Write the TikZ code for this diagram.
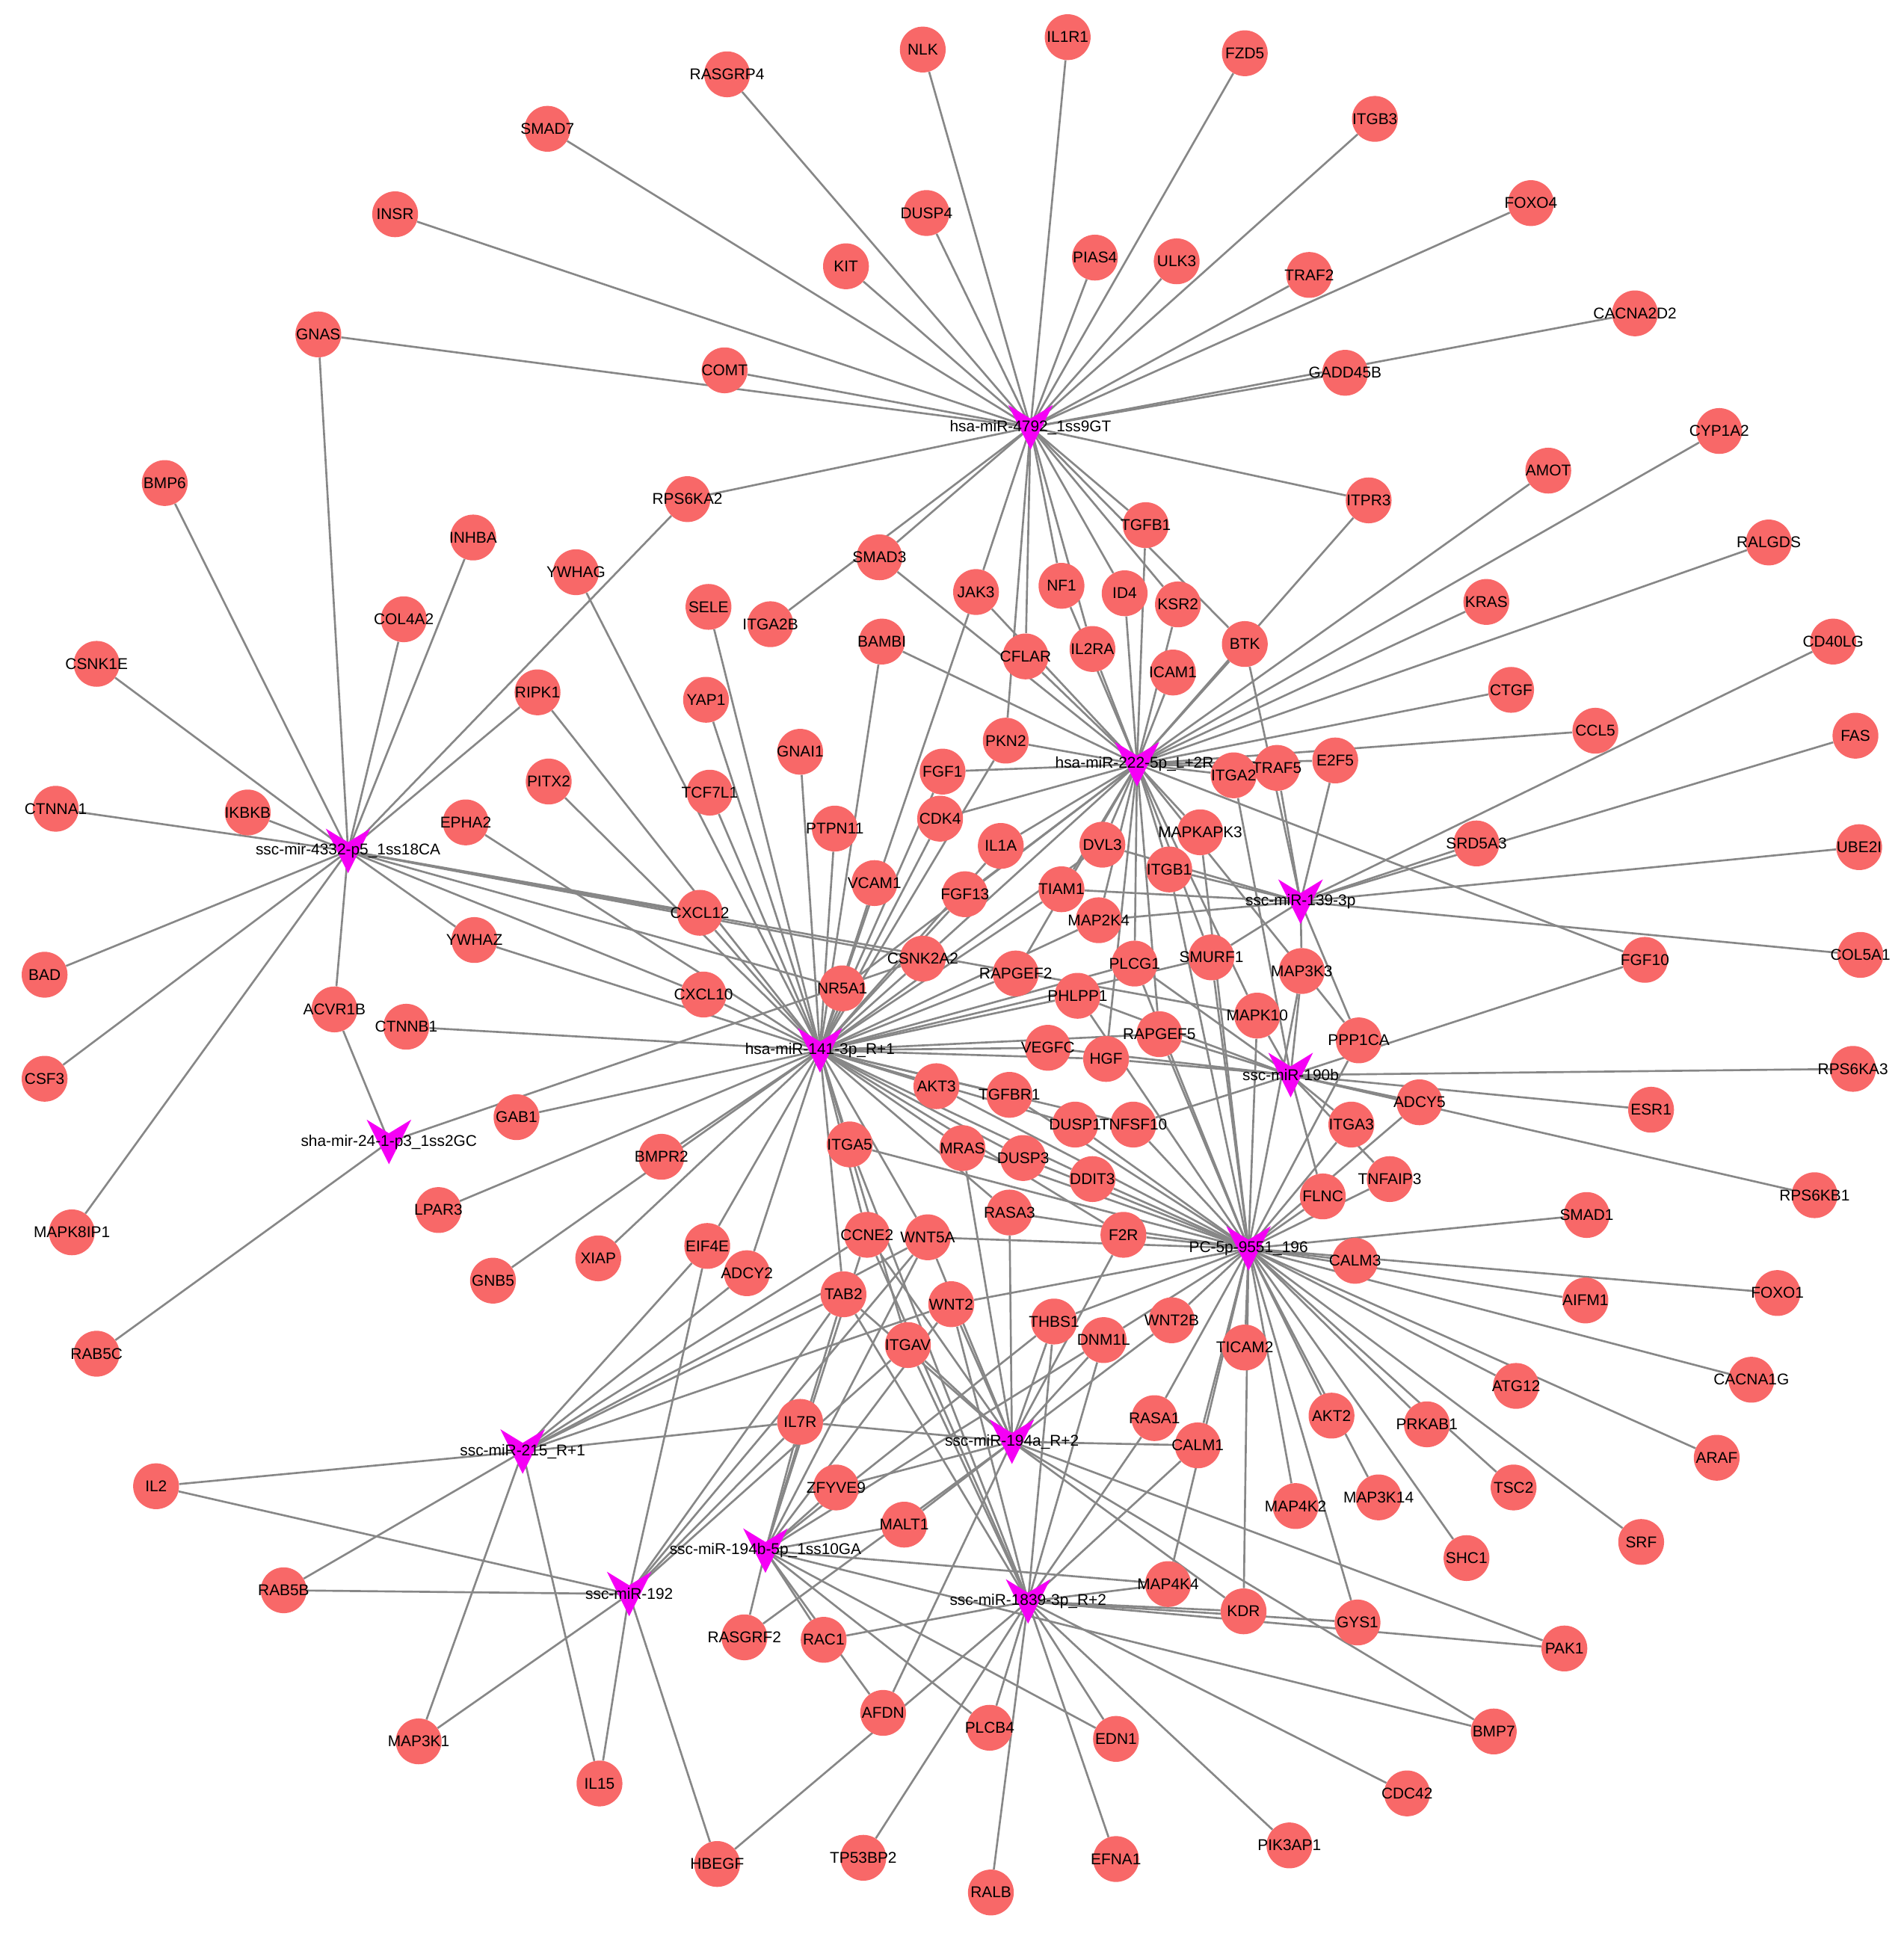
\documentclass[tikz,border=0pt]{standalone}
\usepackage{fontspec}
\setmainfont{Liberation Sans}
\usepackage{tikz}
\usetikzlibrary{backgrounds}
\definecolor{GeneRed}{RGB}{248,104,104}
\definecolor{MirMagenta}{RGB}{245,0,245}
\definecolor{LinkGray}{RGB}{135,135,135}

\begin{document}
\begin{tikzpicture}[
  x=1pt, y=-1pt,
  gene/.style={
    circle,
    fill=GeneRed,
    minimum size=37,
    inner sep=0pt,
    font=\fontsize{12.6}{14}\selectfont,
    execute at begin node={\hbox to 0pt\bgroup\hss},
    execute at end node={\hss\egroup}
  },
  mirna/.style={
    rectangle,
    draw=none,
    inner sep=0pt,
    minimum width=38,
    minimum height=40,
    font=\fontsize{12.6}{14}\selectfont,
    path picture={
      \fill[MirMagenta] ([shift={(-18,-18)}]path picture bounding box.center)
        -- ([shift={(0,-7)}]path picture bounding box.center)
        -- ([shift={(18,-18)}]path picture bounding box.center)
        -- ([shift={(0,18)}]path picture bounding box.center) -- cycle;
    }
  },
  link/.style={draw=LinkGray, line width=1.6}
]
\useasboundingbox (0,0) rectangle (1537,1568);

\node[mirna] (mir4792) at (832,345) {hsa-miR-4792\_1ss9GT};
\node[mirna] (mir222) at (918,617) {hsa-miR-222-5p\_L+2R-};
\node[mirna] (mir4332) at (281,687) {ssc-mir-4332-p5\_1ss18CA};
\node[mirna] (mir139) at (1050,728) {ssc-miR-139-3p};
\node[mirna] (mir141) at (662,848) {hsa-miR-141-3p\_R+1};
\node[mirna] (mir190b) at (1042,868) {ssc-miR-190b};
\node[mirna] (mir24) at (314,922) {sha-mir-24-1-p3\_1ss2GC};
\node[mirna] (pc9551) at (1008,1008) {PC-5p-9551\_196};
\node[mirna] (mir215) at (422,1172) {ssc-miR-215\_R+1};
\node[mirna] (mir194a) at (817,1164) {ssc-miR-194a\_R+2};
\node[mirna] (mir194b) at (618,1252) {ssc-miR-194b-5p\_1ss10GA};
\node[mirna] (mir192) at (508,1287) {ssc-miR-192};
\node[mirna] (mir1839) at (830,1293) {ssc-miR-1839-3p\_R+2};

\node[gene] (RASGRP4) at (587,60) {RASGRP4};
\node[gene] (NLK) at (745,40) {NLK};
\node[gene] (IL1R1) at (862,30) {IL1R1};
\node[gene] (FZD5) at (1005,43) {FZD5};
\node[gene] (SMAD7) at (442,104) {SMAD7};
\node[gene] (ITGB3) at (1110,96) {ITGB3};
\node[gene] (INSR) at (319,173) {INSR};
\node[gene] (DUSP4) at (748,172) {DUSP4};
\node[gene] (FOXO4) at (1236,164) {FOXO4};
\node[gene] (KIT) at (683,215) {KIT};
\node[gene] (PIAS4) at (884,208) {PIAS4};
\node[gene] (ULK3) at (950,211) {ULK3};
\node[gene] (TRAF2) at (1057,222) {TRAF2};
\node[gene] (GNAS) at (257,270) {GNAS};
\node[gene] (CACNA2D2) at (1320,253) {CACNA2D2};
\node[gene] (COMT) at (585,299) {COMT};
\node[gene] (GADD45B) at (1086,301) {GADD45B};
\node[gene] (BMP6) at (133,390) {BMP6};
\node[gene] (CYP1A2) at (1388,348) {CYP1A2};
\node[gene] (AMOT) at (1250,380) {AMOT};
\node[gene] (RPS6KA2) at (555,403) {RPS6KA2};
\node[gene] (ITPR3) at (1105,404) {ITPR3};
\node[gene] (INHBA) at (382,434) {INHBA};
\node[gene] (TGFB1) at (925,424) {TGFB1};
\node[gene] (RALGDS) at (1428,438) {RALGDS};
\node[gene] (SMAD3) at (710,450) {SMAD3};
\node[gene] (YWHAG) at (465,462) {YWHAG};
\node[gene] (NF1) at (857,473) {NF1};
\node[gene] (JAK3) at (788,478) {JAK3};
\node[gene] (ID4) at (908,479) {ID4};
\node[gene] (KSR2) at (951,488) {KSR2};
\node[gene] (KRAS) at (1200,486) {KRAS};
\node[gene] (SELE) at (572,490) {SELE};
\node[gene] (COL4A2) at (326,500) {COL4A2};
\node[gene] (ITGA2B) at (622,504) {ITGA2B};
\node[gene] (BAMBI) at (712,518) {BAMBI};
\node[gene] (CD40LG) at (1480,518) {CD40LG};
\node[gene] (BTK) at (1005,520) {BTK};
\node[gene] (IL2RA) at (882,524) {IL2RA};
\node[gene] (CFLAR) at (828,530) {CFLAR};
\node[gene] (CSNK1E) at (78,536) {CSNK1E};
\node[gene] (ICAM1) at (947,543) {ICAM1};
\node[gene] (CTGF) at (1220,557) {CTGF};
\node[gene] (RIPK1) at (434,559) {RIPK1};
\node[gene] (YAP1) at (570,565) {YAP1};
\node[gene] (CCL5) at (1288,590) {CCL5};
\node[gene] (FAS) at (1498,594) {FAS};
\node[gene] (PKN2) at (812,598) {PKN2};
\node[gene] (GNAI1) at (646,607) {GNAI1};
\node[gene] (E2F5) at (1078,614) {E2F5};
\node[gene] (TRAF5) at (1031,620) {TRAF5};
\node[gene] (FGF1) at (761,623) {FGF1};
\node[gene] (ITGA2) at (996,626) {ITGA2};
\node[gene] (PITX2) at (443,631) {PITX2};
\node[gene] (TCF7L1) at (573,640) {TCF7L1};
\node[gene] (CTNNA1) at (45,653) {CTNNA1};
\node[gene] (IKBKB) at (200,656) {IKBKB};
\node[gene] (CDK4) at (759,661) {CDK4};
\node[gene] (EPHA2) at (376,664) {EPHA2};
\node[gene] (PTPN11) at (674,669) {PTPN11};
\node[gene] (MAPKAPK3) at (969,672) {MAPKAPK3};
\node[gene] (SRD5A3) at (1192,681) {SRD5A3};
\node[gene] (DVL3) at (890,682) {DVL3};
\node[gene] (IL1A) at (808,683) {IL1A};
\node[gene] (UBE2I) at (1501,684) {UBE2I};
\node[gene] (ITGB1) at (944,702) {ITGB1};
\node[gene] (VCAM1) at (706,713) {VCAM1};
\node[gene] (TIAM1) at (857,718) {TIAM1};
\node[gene] (FGF13) at (779,722) {FGF13};
\node[gene] (CXCL12) at (565,737) {CXCL12};
\node[gene] (MAP2K4) at (887,743) {MAP2K4};
\node[gene] (YWHAZ) at (383,759) {YWHAZ};
\node[gene] (COL5A1) at (1502,771) {COL5A1};
\node[gene] (SMURF1) at (978,773) {SMURF1};
\node[gene] (CSNK2A2) at (745,774) {CSNK2A2};
\node[gene] (FGF10) at (1328,775) {FGF10};
\node[gene] (PLCG1) at (916,778) {PLCG1};
\node[gene] (MAP3K3) at (1051,784) {MAP3K3};
\node[gene] (RAPGEF2) at (820,786) {RAPGEF2};
\node[gene] (BAD) at (36,787) {BAD};
\node[gene] (NR5A1) at (680,798) {NR5A1};
\node[gene] (CXCL10) at (568,803) {CXCL10};
\node[gene] (PHLPP1) at (870,804) {PHLPP1};
\node[gene] (ACVR1B) at (270,815) {ACVR1B};
\node[gene] (MAPK10) at (1015,820) {MAPK10};
\node[gene] (CTNNB1) at (328,829) {CTNNB1};
\node[gene] (RAPGEF5) at (936,835) {RAPGEF5};
\node[gene] (PPP1CA) at (1097,840) {PPP1CA};
\node[gene] (VEGFC) at (846,846) {VEGFC};
\node[gene] (HGF) at (893,855) {HGF};
\node[gene] (RPS6KA3) at (1496,863) {RPS6KA3};
\node[gene] (CSF3) at (36,871) {CSF3};
\node[gene] (AKT3) at (756,877) {AKT3};
\node[gene] (TGFBR1) at (815,884) {TGFBR1};
\node[gene] (ADCY5) at (1146,890) {ADCY5};
\node[gene] (ESR1) at (1333,896) {ESR1};
\node[gene] (GAB1) at (417,902) {GAB1};
\node[gene] (DUSP1) at (868,908) {DUSP1};
\node[gene] (TNFSF10) at (915,908) {TNFSF10};
\node[gene] (ITGA3) at (1091,908) {ITGA3};
\node[gene] (ITGA5) at (686,924) {ITGA5};
\node[gene] (MRAS) at (777,927) {MRAS};
\node[gene] (BMPR2) at (534,934) {BMPR2};
\node[gene] (DUSP3) at (826,935) {DUSP3};
\node[gene] (DDIT3) at (882,952) {DDIT3};
\node[gene] (TNFAIP3) at (1122,952) {TNFAIP3};
\node[gene] (RPS6KB1) at (1465,965) {RPS6KB1};
\node[gene] (FLNC) at (1068,966) {FLNC};
\node[gene] (LPAR3) at (354,977) {LPAR3};
\node[gene] (RASA3) at (815,979) {RASA3};
\node[gene] (SMAD1) at (1281,981) {SMAD1};
\node[gene] (MAPK8IP1) at (58,995) {MAPK8IP1};
\node[gene] (F2R) at (907,997) {F2R};
\node[gene] (CCNE2) at (700,997) {CCNE2};
\node[gene] (WNT5A) at (749,999) {WNT5A};
\node[gene] (EIF4E) at (571,1006) {EIF4E};
\node[gene] (XIAP) at (483,1016) {XIAP};
\node[gene] (CALM3) at (1094,1018) {CALM3};
\node[gene] (ADCY2) at (603,1028) {ADCY2};
\node[gene] (GNB5) at (398,1034) {GNB5};
\node[gene] (FOXO1) at (1435,1044) {FOXO1};
\node[gene] (TAB2) at (681,1045) {TAB2};
\node[gene] (AIFM1) at (1280,1050) {AIFM1};
\node[gene] (WNT2) at (768,1053) {WNT2};
\node[gene] (WNT2B) at (946,1066) {WNT2B};
\node[gene] (THBS1) at (851,1067) {THBS1};
\node[gene] (DNM1L) at (891,1082) {DNM1L};
\node[gene] (ITGAV) at (733,1086) {ITGAV};
\node[gene] (TICAM2) at (1005,1088) {TICAM2};
\node[gene] (RAB5C) at (78,1093) {RAB5C};
\node[gene] (CACNA1G) at (1414,1114) {CACNA1G};
\node[gene] (ATG12) at (1224,1119) {ATG12};
\node[gene] (AKT2) at (1075,1143) {AKT2};
\node[gene] (RASA1) at (932,1145) {RASA1};
\node[gene] (IL7R) at (646,1148) {IL7R};
\node[gene] (PRKAB1) at (1152,1150) {PRKAB1};
\node[gene] (CALM1) at (967,1167) {CALM1};
\node[gene] (ARAF) at (1386,1177) {ARAF};
\node[gene] (IL2) at (126,1200) {IL2};
\node[gene] (ZFYVE9) at (675,1201) {ZFYVE9};
\node[gene] (TSC2) at (1222,1201) {TSC2};
\node[gene] (MAP3K14) at (1113,1209) {MAP3K14};
\node[gene] (MAP4K2) at (1046,1216) {MAP4K2};
\node[gene] (MALT1) at (730,1231) {MALT1};
\node[gene] (SRF) at (1325,1245) {SRF};
\node[gene] (SHC1) at (1184,1258) {SHC1};
\node[gene] (MAP4K4) at (943,1279) {MAP4K4};
\node[gene] (RAB5B) at (229,1284) {RAB5B};
\node[gene] (KDR) at (1004,1301) {KDR};
\node[gene] (GYS1) at (1096,1310) {GYS1};
\node[gene] (RASGRF2) at (601,1322) {RASGRF2};
\node[gene] (RAC1) at (665,1324) {RAC1};
\node[gene] (PAK1) at (1263,1331) {PAK1};
\node[gene] (AFDN) at (713,1383) {AFDN};
\node[gene] (PLCB4) at (799,1395) {PLCB4};
\node[gene] (BMP7) at (1206,1398) {BMP7};
\node[gene] (EDN1) at (901,1404) {EDN1};
\node[gene] (MAP3K1) at (338,1406) {MAP3K1};
\node[gene] (IL15) at (484,1440) {IL15};
\node[gene] (CDC42) at (1136,1448) {CDC42};
\node[gene] (PIK3AP1) at (1041,1490) {PIK3AP1};
\node[gene] (TP53BP2) at (697,1500) {TP53BP2};
\node[gene] (EFNA1) at (901,1501) {EFNA1};
\node[gene] (HBEGF) at (579,1505) {HBEGF};
\node[gene] (RALB) at (800,1528) {RALB};

\begin{scope}[on background layer]
\draw[link] (mir4792.center) edge (RASGRP4) edge (NLK) edge (IL1R1) edge (FZD5)
  edge (SMAD7) edge (ITGB3) edge (INSR) edge (DUSP4) edge (FOXO4) edge (KIT)
  edge (PIAS4) edge (ULK3) edge (TRAF2) edge (GNAS) edge (CACNA2D2) edge (COMT)
  edge (GADD45B) edge (RPS6KA2) edge (ITPR3) edge (TGFB1) edge (SMAD3)
  edge (ITGA2B) edge (JAK3) edge (NF1) edge (ID4) edge (KSR2) edge (IL2RA)
  edge (CFLAR) edge (PKN2) edge (BTK);
\draw[link] (mir222.center) edge (CYP1A2) edge (AMOT) edge (RALGDS) edge (KRAS)
  edge (CTGF) edge (CCL5) edge (E2F5) edge (TRAF5) edge (ITGA2) edge (FGF10)
  edge (ITPR3) edge (BTK) edge (TGFB1) edge (NF1) edge (ID4) edge (KSR2)
  edge (IL2RA) edge (ICAM1) edge (CFLAR) edge (SMAD3) edge (JAK3) edge (BAMBI)
  edge (PKN2) edge (FGF1) edge (CDK4) edge (IL1A) edge (DVL3) edge (MAPKAPK3)
  edge (ITGB1) edge (TIAM1) edge (FGF13) edge (MAP2K4) edge (PLCG1)
  edge (SMURF1) edge (MAPK10) edge (RAPGEF2) edge (CSNK2A2) edge (NR5A1)
  edge (HGF) edge (RAPGEF5) edge (PPP1CA);
\draw[link] (mir4332.center) edge (GNAS) edge (BMP6) edge (INHBA) edge (COL4A2)
  edge (CSNK1E) edge (RIPK1) edge (RPS6KA2) edge (CTNNA1) edge (IKBKB)
  edge (BAD) edge (CSF3) edge (MAPK8IP1) edge (ACVR1B) edge (YWHAZ)
  edge (CXCL12) edge (CSNK2A2) edge (NR5A1) edge (CXCL10) edge (MAPK10);
\draw[link] (mir139.center) edge (CD40LG) edge (FAS) edge (SRD5A3) edge (UBE2I)
  edge (COL5A1) edge (E2F5) edge (TRAF5) edge (BTK) edge (TIAM1) edge (MAP2K4)
  edge (SMURF1) edge (ITGB1) edge (MAP3K3) edge (PPP1CA) edge (DVL3);
\draw[link] (mir190b.center) edge (ITGA2) edge (FGF10) edge (RPS6KA3) edge (ESR1)
  edge (RPS6KB1) edge (ADCY5) edge (ITGA3) edge (TNFAIP3) edge (FLNC)
  edge (VEGFC) edge (HGF) edge (PHLPP1) edge (RAPGEF5) edge (TNFSF10)
  edge (MAPK10) edge (MAP3K3) edge (PLCG1);
\draw[link] (mir141.center) edge (YWHAG) edge (RIPK1) edge (PITX2) edge (EPHA2)
  edge (TCF7L1) edge (SELE) edge (YAP1) edge (GNAI1) edge (PTPN11) edge (VCAM1)
  edge (JAK3) edge (BAMBI) edge (PKN2) edge (CDK4) edge (FGF1) edge (IL1A)
  edge (FGF13) edge (CXCL12) edge (CXCL10) edge (NR5A1) edge (CSNK2A2)
  edge (RAPGEF2) edge (MAP2K4) edge (TIAM1) edge (DVL3) edge (PLCG1)
  edge (PHLPP1) edge (VEGFC) edge (HGF) edge (RAPGEF5) edge (AKT3)
  edge (TGFBR1) edge (DUSP1) edge (TNFSF10) edge (DDIT3) edge (MRAS)
  edge (DUSP3) edge (RASA3) edge (F2R) edge (ITGA5) edge (CCNE2) edge (WNT5A)
  edge (TAB2) edge (ITGAV) edge (ADCY2) edge (EIF4E) edge (BMPR2) edge (XIAP)
  edge (GNB5) edge (LPAR3) edge (GAB1) edge (CTNNB1) edge (YWHAZ) edge (SMURF1);
\draw[link] (pc9551.center) edge (MAPKAPK3) edge (ITGB1) edge (SMURF1) edge (PLCG1)
  edge (MAPK10) edge (RAPGEF5) edge (MAP3K3) edge (PPP1CA) edge (ADCY5)
  edge (ITGA3) edge (TNFAIP3) edge (FLNC) edge (SMAD1) edge (CALM3) edge (AIFM1)
  edge (FOXO1) edge (CACNA1G) edge (ATG12) edge (ARAF) edge (AKT2) edge (PRKAB1)
  edge (TSC2) edge (MAP3K14) edge (SHC1) edge (SRF) edge (MAP4K2) edge (GYS1)
  edge (KDR) edge (TICAM2) edge (CALM1) edge (MAP4K4) edge (RASA1) edge (WNT2B)
  edge (DNM1L) edge (THBS1) edge (WNT2) edge (WNT5A) edge (F2R) edge (RASA3)
  edge (DDIT3) edge (DUSP1) edge (DUSP3) edge (TGFBR1) edge (AKT3) edge (ITGA5)
  edge (MRAS) edge (TNFSF10) edge (PHLPP1);
\draw[link] (mir24.center) edge (ACVR1B) edge (RAB5C) edge (CSNK2A2);
\draw[link] (mir215.center) edge (IL2) edge (RAB5B) edge (MAP3K1) edge (IL15)
  edge (IL7R) edge (EIF4E) edge (ADCY2) edge (CCNE2) edge (WNT5A) edge (WNT2)
  edge (TAB2);
\draw[link] (mir192.center) edge (IL2) edge (RAB5B) edge (MAP3K1) edge (IL15)
  edge (HBEGF) edge (EIF4E) edge (TAB2) edge (WNT5A) edge (IL7R) edge (ITGAV);
\draw[link] (mir194b.center) edge (ZFYVE9) edge (MALT1) edge (RASGRF2) edge (RAC1)
  edge (AFDN) edge (PLCB4) edge (EDN1) edge (BMP7) edge (IL7R) edge (TAB2)
  edge (WNT5A) edge (CCNE2) edge (DNM1L) edge (THBS1) edge (WNT2) edge (MAP4K4);
\draw[link] (mir194a.center) edge (IL7R) edge (ZFYVE9) edge (MALT1) edge (RASGRF2)
  edge (AFDN) edge (BMP7) edge (PAK1) edge (MRAS) edge (F2R) edge (THBS1)
  edge (DNM1L) edge (WNT2B) edge (WNT2) edge (WNT5A) edge (TAB2) edge (CCNE2)
  edge (ITGAV) edge (RASA3) edge (CALM1) edge (KDR);
\draw[link] (mir1839.center) edge (HBEGF) edge (TP53BP2) edge (RALB) edge (EFNA1)
  edge (PIK3AP1) edge (CDC42) edge (PAK1) edge (GYS1) edge (KDR) edge (MAP4K4)
  edge (RAC1) edge (PLCB4) edge (EDN1) edge (TAB2) edge (CCNE2) edge (ITGAV)
  edge (THBS1) edge (DNM1L) edge (RASA1) edge (WNT2) edge (ITGA5) edge (CALM1);
\end{scope}
\end{tikzpicture}
\end{document}
